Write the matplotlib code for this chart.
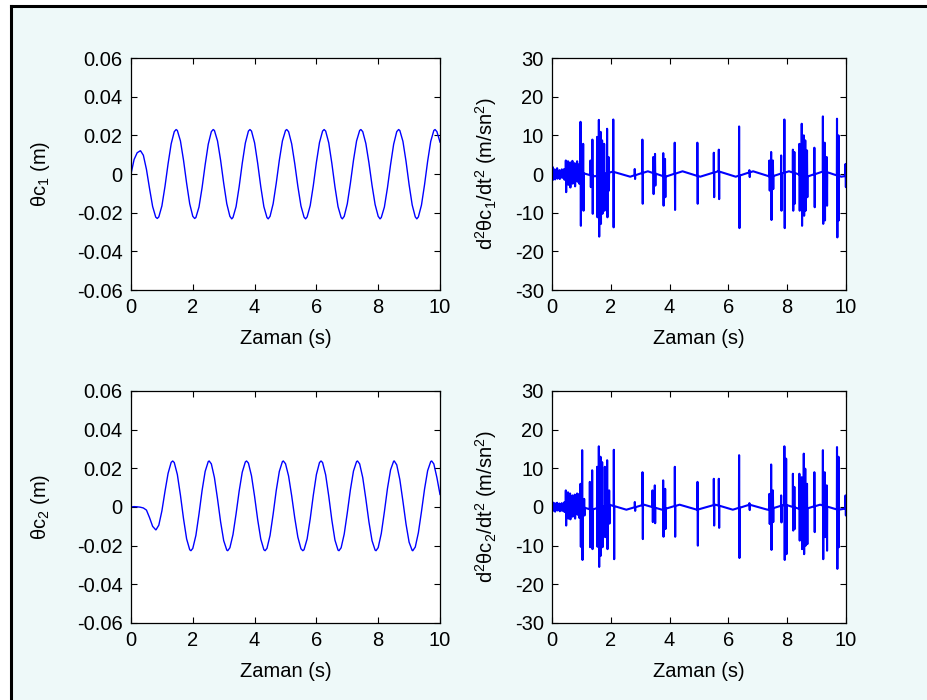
import numpy as np
import matplotlib
matplotlib.use("Agg")
import matplotlib.pyplot as plt
from matplotlib.patches import Rectangle
from matplotlib.lines import Line2D

plt.rcParams['font.family'] = ['Liberation Sans', 'DejaVu Sans']
plt.rcParams['mathtext.fontset'] = 'custom'
plt.rcParams['mathtext.rm'] = 'Liberation Sans'
plt.rcParams['mathtext.it'] = 'Liberation Sans'
plt.rcParams['mathtext.default'] = 'regular'
plt.rcParams['axes.unicode_minus'] = False

# ---- sampled displacement signals (every 0.1 s) ----
t_grid = np.round(np.arange(101) * 0.1, 2)

theta1 = [0.0000, 0.0075, 0.0110, 0.0120, 0.0097, 0.0024, -0.0075, -0.0168, -0.0223, -0.0222,
          -0.0165, -0.0064, 0.0053, 0.0156, 0.0219, 0.0225, 0.0171, 0.0071, -0.0048, -0.0154,
          -0.0219, -0.0225, -0.0171, -0.0071, 0.0048, 0.0154, 0.0219, 0.0225, 0.0171, 0.0071,
          -0.0048, -0.0154, -0.0219, -0.0225, -0.0169, -0.0066, 0.0055, 0.0160, 0.0222, 0.0222,
          0.0161, 0.0055, -0.0066, -0.0169, -0.0225, -0.0219, -0.0154, -0.0048, 0.0071, 0.0171,
          0.0225, 0.0219, 0.0156, 0.0053, -0.0064, -0.0165, -0.0223, -0.0222, -0.0163, -0.0060,
          0.0060, 0.0163, 0.0222, 0.0222, 0.0161, 0.0055, -0.0066, -0.0169, -0.0225, -0.0219,
          -0.0154, -0.0048, 0.0071, 0.0171, 0.0225, 0.0219, 0.0158, 0.0058, -0.0058, -0.0158,
          -0.0219, -0.0225, -0.0171, -0.0071, 0.0048, 0.0154, 0.0219, 0.0225, 0.0169, 0.0066,
          -0.0055, -0.0160, -0.0222, -0.0222, -0.0161, -0.0055, 0.0066, 0.0169, 0.0225, 0.0219,
          0.0165]
theta1_ext_t = [0.31, 0.85, 1.46, 2.06, 2.66, 3.26, 3.85, 4.44, 5.04, 5.65, 6.25, 6.84, 7.44,
                8.06, 8.66, 9.25, 9.84]
theta1_ext_v = [0.0120, -0.0230, 0.0230, -0.0230, 0.0230, -0.0232, 0.0230, -0.0232, 0.0230,
                -0.0232, 0.0230, -0.0232, 0.0230, -0.0232, 0.0230, -0.0232, 0.0230]

theta2 = [0.0000, 0.0002, 0.0001, -0.0001, -0.0005, -0.0016, -0.0055, -0.0100, -0.0118, -0.0094,
          -0.0020, 0.0081, 0.0174, 0.0231, 0.0230, 0.0168, 0.0061, -0.0061, -0.0165, -0.0221,
          -0.0214, -0.0147, -0.0037, 0.0085, 0.0184, 0.0235, 0.0223, 0.0152, 0.0042, -0.0077,
          -0.0174, -0.0223, -0.0211, -0.0143, -0.0036, 0.0082, 0.0180, 0.0233, 0.0227, 0.0161,
          0.0054, -0.0066, -0.0166, -0.0221, -0.0214, -0.0147, -0.0037, 0.0085, 0.0184, 0.0235,
          0.0224, 0.0160, 0.0058, -0.0057, -0.0156, -0.0216, -0.0221, -0.0165, -0.0061, 0.0061,
          0.0168, 0.0230, 0.0230, 0.0166, 0.0056, -0.0068, -0.0171, -0.0223, -0.0211, -0.0140,
          -0.0030, 0.0089, 0.0186, 0.0235, 0.0223, 0.0152, 0.0042, -0.0077, -0.0174, -0.0223,
          -0.0210, -0.0137, -0.0025, 0.0096, 0.0192, 0.0237, 0.0218, 0.0142, 0.0030, -0.0088,
          -0.0182, -0.0225, -0.0207, -0.0133, -0.0024, 0.0093, 0.0188, 0.0235, 0.0223, 0.0152,
          0.0065]
theta2_ext_t = [0.81, 1.35, 1.94, 2.53, 3.13, 3.74, 4.34, 4.93, 5.56, 6.15, 6.73, 7.33, 7.93,
                8.52, 9.12, 9.73]
theta2_ext_v = [-0.0118, 0.0238, -0.0226, 0.0238, -0.0226, 0.0238, -0.0226, 0.0238, -0.0226,
                0.0238, -0.0226, 0.0238, -0.0226, 0.0238, -0.0226, 0.0238]

# ---- acceleration signals: slow baseline + impulsive spikes ----
acc1_base_t = [0.0, 0.31, 0.85, 1.46, 2.06, 2.66, 3.26, 3.85, 4.44, 5.04, 5.65, 6.25, 6.84,
               7.44, 8.06, 8.66, 9.25, 9.84, 10.0]
acc1_base_v = [0.8, -0.3, 0.6, -0.6, 0.6, -0.7, 0.7, -0.7, 0.7, -0.7, 0.7, -0.7, 0.7,
               -0.7, 0.7, -0.7, 0.7, -0.7, -0.5]
acc1_spike_t = [0.03, 0.10, 0.18, 0.26, 0.34, 0.42, 0.476, 0.55, 0.62, 0.70, 0.78, 0.86, 0.92,
                0.976, 1.066, 1.315, 1.38, 1.54, 1.60, 1.66, 1.71, 1.78, 1.88, 1.93, 2.09,
                2.82, 3.08, 3.45, 3.51, 3.79, 3.85, 4.18, 4.95, 5.51, 5.68, 6.37, 6.72,
                7.40, 7.46, 7.52, 7.80, 7.91, 8.20, 8.25, 8.42, 8.50, 8.57, 8.62, 8.68, 8.93,
                9.22, 9.28, 9.35, 9.70, 9.75, 9.99]
acc1_spike_hi = [1.8, 1.2, 1.5, 1.0, 1.2, 1.3, 3.5, 3.3, 3.0, 3.4, 2.8, 3.3, 2.5,
                 13.5, 7.8, 3.5, 8.9, 9.6, 14.0, 10.9, 8.7, 7.8, 11.7, 4.4, 14.1,
                 1.3, 8.9, 4.4, 5.2, 5.4, 3.9, 8.1, 8.1, 5.5, 6.3, 12.3, 1.0,
                 3.5, 5.7, 3.5, 4.8, 14.1, 6.3, 5.7, 7.8, 13.0, 10.0, 8.7, 6.1, 6.8,
                 14.9, 8.1, 4.4, 14.3, 10.0, 2.6]
acc1_spike_lo = [-1.5, -1.4, -1.2, -1.3, -1.0, -1.5, -4.7, -2.8, -3.5, -2.5, -3.2, -2.0, -2.5,
                 -13.4, -9.5, -3.4, -10.3, -11.2, -16.2, -12.9, -10.3, -9.5, -11.2, -4.3, -13.8,
                 -1.3, -7.7, -5.2, -3.0, -8.2, -6.0, -9.3, -7.7, -6.0, -6.5, -14.0, -0.8,
                 -4.3, -11.9, -3.9, -9.5, -14.0, -9.5, -7.7, -9.5, -13.4, -10.8, -9.5, -6.0, -8.6,
                 -12.9, -12.0, -8.2, -16.4, -12.0, -3.4]

acc2_base_t = [0.0, 0.40, 0.81, 1.35, 1.94, 2.53, 3.13, 3.74, 4.34, 4.93, 5.56, 6.15, 6.73,
               7.33, 7.93, 8.52, 9.12, 9.73, 10.0]
acc2_base_v = [0.6, 0.2, 0.4, -0.7, 0.6, -0.7, 0.6, -0.7, 0.6, -0.7, 0.6, -0.7, 0.6,
               -0.7, 0.6, -0.7, 0.6, -0.7, -0.4]
acc2_spike_t = [0.03, 0.10, 0.18, 0.26, 0.34, 0.42, 0.476, 0.55, 0.62, 0.70, 0.78, 0.86, 0.92,
                0.975, 1.032, 1.10, 1.293, 1.372, 1.542, 1.599, 1.655, 1.712, 1.803, 1.882,
                1.95, 2.109, 2.823, 3.084, 3.424, 3.503, 3.787, 3.855, 4.184, 4.955,
                5.51, 5.68, 6.37, 6.72, 7.40, 7.46, 7.52, 7.80, 7.91, 7.97,
                8.20, 8.25, 8.42, 8.50, 8.57, 8.62, 8.68, 8.93, 9.22, 9.28, 9.35, 9.70, 9.75, 9.99]
acc2_spike_hi = [1.2, 1.0, 1.1, 0.9, 1.0, 1.2, 4.3, 3.8, 3.5, 3.0, 3.2, 3.5, 3.3,
                 6.0, 14.7, 2.1, 6.5, 9.5, 10.4, 15.7, 13.0, 11.6, 10.4, 12.1,
                 4.3, 14.8, 1.3, 9.0, 4.3, 5.6, 6.9, 4.7, 10.4, 6.5,
                 7.3, 7.3, 13.4, 1.0, 3.4, 11.0, 4.3, 3.0, 15.7, 12.5,
                 8.6, 5.2, 8.6, 7.7, 13.8, 9.9, 6.0, 9.0, 14.7, 9.0, 5.6, 15.5, 13.0, 3.0]
acc2_spike_lo = [-1.0, -1.2, -0.9, -1.1, -1.0, -1.3, -4.8, -3.0, -3.2, -2.5, -3.0, -2.0, -2.8,
                 -10.3, -13.7, -2.2, -10.4, -10.9, -10.3, -15.5, -12.6, -10.4, -7.8, -10.9,
                 -4.3, -13.5, -1.0, -8.3, -3.9, -4.2, -7.7, -5.7, -7.7, -10.0,
                 -4.8, -5.4, -13.2, -0.8, -4.4, -11.1, -3.9, -4.0, -13.7, -12.2,
                 -6.1, -5.7, -8.7, -10.9, -12.2, -10.0, -9.6, -6.5, -13.5, -7.8, -11.3, -16.0, -10.4, -2.2]

x_ticks = [0, 2, 4, 6, 8, 10]
theta_ticks = [-0.06, -0.04, -0.02, 0, 0.02, 0.04, 0.06]
theta_ticklabels = ['-0.06', '-0.04', '-0.02', '0', '0.02', '0.04', '0.06']
acc_ticks = [-30, -20, -10, 0, 10, 20, 30]

xlabel = 'Zaman (s)'
theta_labels = [r'θc$_1$ (m)', r'θc$_2$ (m)']
acc_labels = [r'd$^2$θc$_1$/dt$^2$ (m/sn$^2$)', r'd$^2$θc$_2$/dt$^2$ (m/sn$^2$)']


def merge(t_a, v_a, t_b, v_b):
    t = np.concatenate([np.asarray(t_a, float), np.asarray(t_b, float)])
    v = np.concatenate([np.asarray(v_a, float), np.asarray(v_b, float)])
    order = np.argsort(t, kind='stable')
    return t[order], v[order]


def spike_trace(base_t, base_v, sp_t, sp_hi, sp_lo):
    sp_t = np.asarray(sp_t, float)
    b = np.interp(sp_t, base_t, base_v)
    seg_t = np.column_stack([sp_t - 0.012, sp_t - 0.006, sp_t + 0.006, sp_t + 0.012]).ravel()
    seg_v = np.column_stack([b, sp_hi, sp_lo, b]).ravel()
    return merge(base_t, base_v, seg_t, seg_v)


W, H = 927, 700
fig = plt.figure(figsize=(W / 100, H / 100), dpi=100)
fig.patch.set_facecolor('white')

# pale panel with a dark frame along its left and top edges
x0, y1 = 10.5 / W, 1 - 5.5 / H
fig.patches.append(Rectangle((x0, -0.2), 1.5, y1 + 0.2, transform=fig.transFigure,
                             facecolor='#EEF9F9', edgecolor='none', zorder=-10))
fig.lines.append(Line2D([x0, x0], [-0.2, y1], transform=fig.transFigure,
                        color='black', lw=2.2))
fig.lines.append(Line2D([x0, 1.5], [y1, y1], transform=fig.transFigure,
                        color='black', lw=2.2))

col_left = [131 / W, 552 / W]
col_width = [309 / W, 294 / W]
row_bottom = [1 - 290 / H, 1 - 623 / H]
row_height = 232 / H

blue = '#0000FF'
FS = 14.5

theta_series = [merge(t_grid, theta1, theta1_ext_t, theta1_ext_v),
                merge(t_grid, theta2, theta2_ext_t, theta2_ext_v)]
acc_series = [spike_trace(acc1_base_t, acc1_base_v, acc1_spike_t, acc1_spike_hi, acc1_spike_lo),
              spike_trace(acc2_base_t, acc2_base_v, acc2_spike_t, acc2_spike_hi, acc2_spike_lo)]

for r in range(2):
    for c in range(2):
        ax = fig.add_axes([col_left[c], row_bottom[r], col_width[c], row_height])
        ax.set_facecolor('white')
        if c == 0:
            t, v = theta_series[r]
            ax.plot(t, v, color=blue, lw=1.0)
            ax.set_ylim(-0.06, 0.06)
            ax.set_yticks(theta_ticks)
            ax.set_yticklabels(theta_ticklabels)
            ax.set_ylabel(theta_labels[r], fontsize=FS)
            ax.yaxis.set_label_coords(-0.255, 0.5)
        else:
            t, v = acc_series[r]
            ax.plot(t, v, color=blue, lw=1.5)
            ax.set_ylim(-30, 30)
            ax.set_yticks(acc_ticks)
            ax.set_ylabel(acc_labels[r], fontsize=FS)
            ax.yaxis.set_label_coords(-0.18, 0.5)
        ax.set_xlim(0, 10)
        ax.set_xticks(x_ticks)
        ax.set_xlabel(xlabel, fontsize=FS)
        ax.xaxis.set_label_coords(0.5, -0.17)
        ax.tick_params(direction='in', top=True, right=True, length=4, width=0.8,
                       labelsize=FS, pad=6)
        for s in ax.spines.values():
            s.set_linewidth(0.9)

fig.savefig('out.png', dpi=100)
